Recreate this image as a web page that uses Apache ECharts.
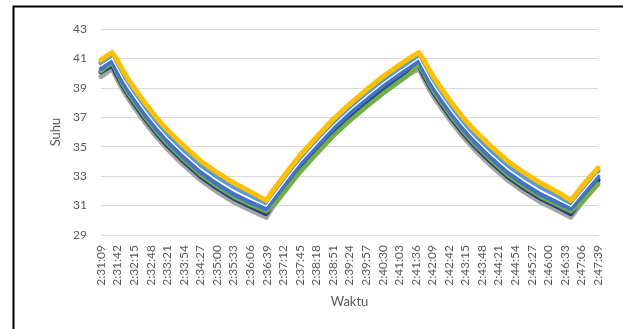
<!DOCTYPE html>
<html>
<head>
<meta charset="utf-8">
<script src="https://cdn.jsdelivr.net/npm/echarts@6/dist/echarts.min.js"></script>
<style>
  html, body { margin: 0; padding: 0; background: #fff; }
  #chart { width: 623px; height: 329px; }
</style>
</head>
<body>
<div id="chart"></div>
<script>
// Time axis: seconds elapsed since 2:31:09, one tick label every 33 s
const tickLabels = [
  '2:31:09','2:31:42','2:32:15','2:32:48','2:33:21','2:33:54','2:34:27','2:35:00',
  '2:35:33','2:36:06','2:36:39','2:37:12','2:37:45','2:38:18','2:38:51','2:39:24',
  '2:39:57','2:40:30','2:41:03','2:41:36','2:42:09','2:42:42','2:43:15','2:43:48',
  '2:44:21','2:44:54','2:45:27','2:46:00','2:46:33','2:47:06','2:47:39'
];

// Sample times (s after 2:31:09)
const times = [0, 22, 33, 44, 55, 66, 88, 110, 132, 165, 198, 231, 264, 297, 329,
  341, 352, 374, 396, 429, 462, 495, 528, 561, 594, 616, 633,
  644, 655, 666, 677, 699, 721, 743, 776, 809, 842, 875, 908, 936, 960, 990];

// Temperature readings (Suhu) per sensor
const sensorYellow = [40.90, 41.40, 40.85, 40.15, 39.55, 39.00, 37.95, 37.00, 36.15, 35.05, 34.05, 33.25, 32.55, 31.95, 31.35,
  31.95, 32.45, 33.45, 34.40, 35.65, 36.85, 37.90, 38.85, 39.75, 40.55, 41.05, 41.40,
  40.85, 40.15, 39.55, 39.00, 37.95, 37.00, 36.15, 35.05, 34.05, 33.25, 32.55, 31.95, 31.35, 32.40, 33.55];
const sensorLightBlue = [40.68, 41.20, 40.58, 39.88, 39.28, 38.73, 37.68, 36.73, 35.88, 34.78, 33.78, 32.98, 32.28, 31.72, 31.17,
  31.72, 32.22, 33.22, 34.17, 35.42, 36.62, 37.67, 38.62, 39.52, 40.32, 40.82, 41.20,
  40.58, 39.88, 39.28, 38.73, 37.68, 36.73, 35.88, 34.78, 33.78, 32.98, 32.28, 31.72, 31.17, 32.17, 33.38];
const sensorWhite = [40.50, 41.00, 40.30, 39.60, 39.00, 38.45, 37.40, 36.45, 35.60, 34.50, 33.50, 32.70, 32.00, 31.45, 30.95,
  31.50, 32.00, 33.00, 33.95, 35.20, 36.40, 37.45, 38.40, 39.30, 40.10, 40.60, 41.00,
  40.30, 39.60, 39.00, 38.45, 37.40, 36.45, 35.60, 34.50, 33.50, 32.70, 32.00, 31.45, 30.95, 31.95, 33.15];
const sensorBlue = [40.30, 40.85, 40.10, 39.38, 38.78, 38.23, 37.18, 36.23, 35.38, 34.28, 33.28, 32.48, 31.78, 31.23, 30.78,
  31.32, 31.82, 32.82, 33.77, 35.02, 36.22, 37.27, 38.22, 39.12, 39.92, 40.43, 40.85,
  40.10, 39.38, 38.78, 38.23, 37.18, 36.23, 35.38, 34.28, 33.28, 32.48, 31.78, 31.23, 30.78, 31.77, 32.97];
const sensorGreen = [40.15, 40.72, 39.95, 39.22, 38.62, 38.07, 37.02, 36.07, 35.22, 34.12, 33.12, 32.32, 31.62, 31.07, 30.62,
  30.95, 31.35, 32.30, 33.25, 34.50, 35.70, 36.75, 37.70, 38.60, 39.42, 39.98, 40.60,
  39.95, 39.22, 38.62, 38.07, 37.02, 36.07, 35.22, 34.12, 33.12, 32.32, 31.62, 31.07, 30.62, 31.30, 32.45];
const sensorNavy = [40.08, 40.55, 39.80, 39.10, 38.50, 37.95, 36.90, 35.95, 35.10, 34.00, 33.00, 32.20, 31.50, 30.95, 30.45,
  31.05, 31.57, 32.58, 33.53, 34.78, 35.98, 37.03, 37.98, 38.88, 39.68, 40.18, 40.55,
  39.80, 39.10, 38.50, 37.95, 36.90, 35.95, 35.10, 34.00, 33.00, 32.20, 31.50, 30.95, 30.45, 31.50, 32.75];
const sensorGray = [39.76, 40.30, 39.55, 38.85, 38.25, 37.70, 36.65, 35.70, 34.85, 33.75, 32.75, 31.95, 31.25, 30.70, 30.20,
  30.85, 31.38, 32.38, 33.33, 34.58, 35.78, 36.83, 37.78, 38.68, 39.48, 39.98, 40.30,
  39.55, 38.85, 38.25, 37.70, 36.65, 35.70, 34.85, 33.75, 32.75, 31.95, 31.25, 30.70, 30.20, 31.30, 32.55];

const pair = arr => times.map((t, i) => [t, arr[i]]);

function lineSeries(name, data, color, width, z) {
  return {
    name, type: 'line', data: pair(data), showSymbol: false, symbol: 'none',
    z, lineStyle: { color, width, cap: 'round', join: 'round' }, silent: true
  };
}

const chart = echarts.init(document.getElementById('chart'), null, { renderer: 'canvas' });
const labelFont = 'Lato, "Open Sans", sans-serif';

chart.setOption({
  animation: false,
  backgroundColor: '#fff',
  grid: { left: 101, right: 25, top: 29, bottom: 94 },
  graphic: [{
    type: 'rect', left: 11, top: 4, z: 100,
    shape: { width: 640, height: 360 },
    style: { fill: 'none', stroke: '#000', lineWidth: 2 }
  }],
  xAxis: {
    type: 'value', min: 0, max: 990, interval: 33,
    name: 'Waktu', nameLocation: 'middle', nameGap: 60,
    nameTextStyle: { color: '#595959', fontSize: 13, fontFamily: labelFont },
    axisLine: { show: false }, axisTick: { show: false },
    splitLine: { show: false },
    axisLabel: {
      rotate: 90, margin: 10, color: '#595959', fontSize: 12, fontFamily: labelFont,
      formatter: v => tickLabels[Math.round(v / 33)]
    }
  },
  yAxis: {
    type: 'value', min: 29, max: 43, interval: 2,
    name: 'Suhu', nameLocation: 'middle', nameGap: 30, nameRotate: 90,
    nameTextStyle: { color: '#595959', fontSize: 13, fontFamily: labelFont },
    axisLine: { show: false }, axisTick: { show: false },
    splitLine: { lineStyle: { color: '#D9D9D9', width: 1 } },
    axisLabel: { margin: 14, color: '#595959', fontSize: 12, fontFamily: labelFont }
  },
  series: [
    lineSeries('Gray', sensorGray, '#A5A5A5', 5, 2),
    lineSeries('Navy', sensorNavy, '#264478', 5, 3),
    lineSeries('Green', sensorGreen, '#70AD47', 4.5, 4),
    lineSeries('Blue', sensorBlue, '#4472C4', 4.5, 5),
    lineSeries('LightBlue', sensorLightBlue, '#5B9BD5', 5, 6),
    lineSeries('Yellow', sensorYellow, '#FFC000', 5, 7),
    lineSeries('White', sensorWhite, '#FFFFFF', 1.2, 8)
  ]
});
</script>
</body>
</html>
